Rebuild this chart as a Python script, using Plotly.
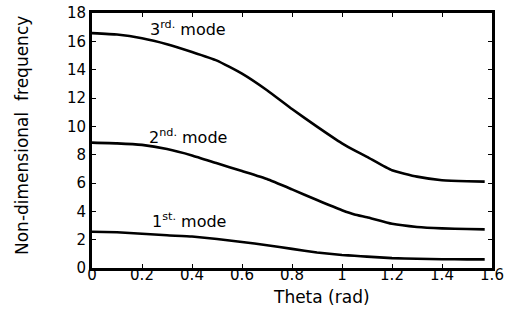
import plotly.graph_objects as go

theta = [0, 0.1, 0.2, 0.3, 0.4, 0.5, 0.6, 0.7, 0.8, 0.9, 1.0, 1.05, 1.1, 1.2, 1.3, 1.4, 1.5, 1.5708]
mode3 = [16.58, 16.48, 16.22, 15.8, 15.25, 14.64, 13.72, 12.55, 11.22, 9.98, 8.8, 8.3, 7.85, 6.9, 6.45, 6.2, 6.12, 6.1]
mode2 = [8.85, 8.8, 8.69, 8.4, 7.95, 7.39, 6.84, 6.28, 5.55, 4.8, 4.08, 3.78, 3.58, 3.12, 2.9, 2.8, 2.75, 2.73]
mode1 = [2.56, 2.52, 2.42, 2.31, 2.22, 2.05, 1.84, 1.61, 1.35, 1.1, 0.92, 0.86, 0.8, 0.7, 0.65, 0.62, 0.61, 0.61]

labels = ["3<sup>rd.</sup> mode", "2<sup>nd.</sup> mode", "1<sup>st.</sup> mode"]
label_x = [0.224, 0.22, 0.232]
label_y = [16.94, 9.25, 3.32]

x_ticks = [0, 0.2, 0.4, 0.6, 0.8, 1, 1.2, 1.4, 1.6]
x_ticktext = ["0", "0.2", "0.4", "0.6", "0.8", "1", "1.2", "1.4", "1.6"]
y_ticks = [0, 2, 4, 6, 8, 10, 12, 14, 16, 18]

W, H = 510, 316
L, R, T, B = 92, 18, 13, 48
pw, ph = W - L - R, H - T - B

fig = go.Figure()
for ys in (mode3, mode2, mode1):
    fig.add_trace(go.Scatter(x=theta, y=ys, mode="lines", line_shape="spline",
                             line=dict(color="black", width=2.6, smoothing=0.4),
                             showlegend=False))

for t, lx, ly in zip(labels, label_x, label_y):
    fig.add_annotation(x=lx, y=ly, xref="x", yref="y", text=t, showarrow=False,
                       xanchor="left", yanchor="middle",
                       font=dict(family="DejaVu Sans", size=16, color="black"))

fig.add_annotation(x=(321 - L) / pw, y=(H - B - 297) / ph, xref="paper", yref="paper",
                   text="Theta (rad)", showarrow=False, xanchor="center", yanchor="middle",
                   font=dict(family="DejaVu Sans", size=17, color="black"))
fig.add_annotation(x=(22 - L) / pw, y=(H - B - 136) / ph, xref="paper", yref="paper",
                   text="Non-dimensional  frequency", textangle=-90, showarrow=False,
                   xanchor="center", yanchor="middle",
                   font=dict(family="DejaVu Sans", size=17, color="black"))

fig.update_layout(
    width=W, height=H,
    margin=dict(l=L, r=R, t=T, b=B),
    paper_bgcolor="white", plot_bgcolor="white",
    font=dict(family="DejaVu Sans", size=15, color="black"),
)

fig.update_xaxes(range=[0, 1.6], tickvals=x_ticks, ticktext=x_ticktext,
                 showline=True, linewidth=3, linecolor="black", mirror="ticks",
                 ticks="inside", ticklen=4, tickwidth=1, tickcolor="black",
                 showgrid=False, zeroline=False, tickfont=dict(size=15),
                 ticklabelstandoff=-9, automargin=False)
fig.update_yaxes(range=[0, 18], tickvals=y_ticks,
                 showline=True, linewidth=3, linecolor="black", mirror="ticks",
                 ticks="inside", ticklen=4, tickwidth=1, tickcolor="black",
                 showgrid=False, zeroline=False, tickfont=dict(size=15),
                 automargin=False)

fig.write_html("out.html", config={"displayModeBar": False},
               post_script="document.body.style.margin='0px';document.documentElement.style.overflow='hidden';")
